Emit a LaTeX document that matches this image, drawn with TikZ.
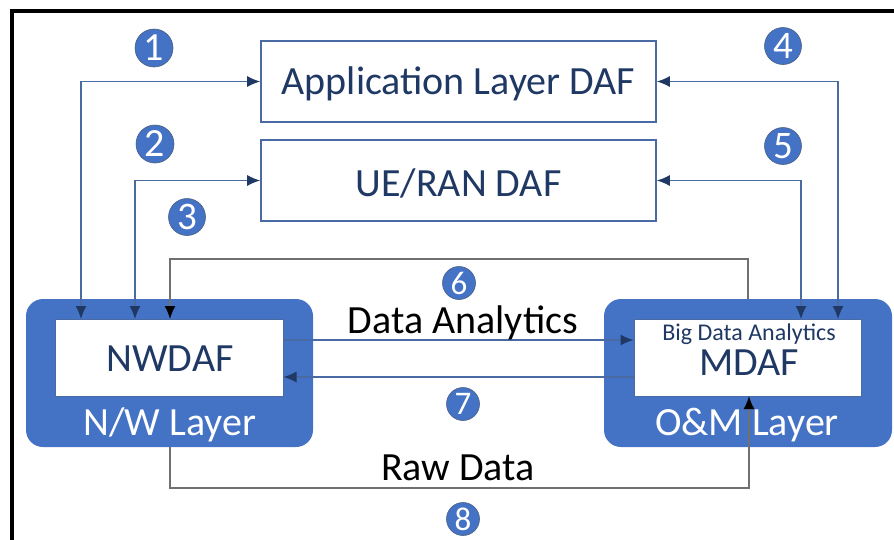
\documentclass[tikz,border=0pt]{standalone}
\usepackage{fontspec}
\setmainfont{Carlito}
\usepackage{tikz}
\usetikzlibrary{arrows.meta}
\definecolor{layerblue}{HTML}{4472C4}
\definecolor{navy}{HTML}{1F3864}
\definecolor{linkblue}{HTML}{4A6AA3}
\definecolor{wiregray}{HTML}{707070}

\begin{document}
\begin{tikzpicture}[x=1pt,y=-1pt,
    dafbox/.style={draw=linkblue,line width=1.6pt,fill=white,minimum width=395pt,minimum height=81pt,inner sep=0pt},
    layerbox/.style={fill=layerblue,rounded corners=17pt,minimum width=287pt,minimum height=148pt,inner sep=0pt},
    funcbox/.style={draw=linkblue,line width=1pt,fill=white,minimum width=228pt,minimum height=77pt,inner sep=0pt},
    big/.style={font=\fontsize{40}{44}\selectfont,anchor=base,inner sep=0pt},
    num/.style={circle,fill=layerblue,draw=navy!80,line width=0.6pt,inner sep=0pt,text=white},
    link/.style={draw=linkblue,line width=1.4pt,{Latex[length=13pt,width=11pt,navy]}-{Latex[length=13pt,width=11pt,navy]}},
    onelink/.style={draw=linkblue,line width=1.4pt,-{Latex[length=13pt,width=11pt,navy]}},
    wire/.style={draw=wiregray,line width=1.6pt,-{Latex[length=13pt,width=11pt,black]}}]
    \useasboundingbox (0,0) rectangle (894,539);
    % Draw the frame
    \draw[line width=3.6pt] (12,545) -- (12,11) -- (900,11);
    % Draw the DAF boxes
    \node[dafbox] (app) at (458.5,81.5) {};
    \node[big,text=navy] (apptxt) at (458.5,94) {Application Layer DAF};
    \node[dafbox] (ueran) at (458.5,180.5) {};
    \node[big,text=navy] (ueratxt) at (458.5,196) {UE/RAN DAF};
    % Draw the two layers
    \node[layerbox] (nwlayer) at (169.5,373) {};
    \node[funcbox] (nwdaf) at (169,357.5) {};
    \node[big,text=navy] (nwdaftxt) at (170,371) {NWDAF};
    \node[big,text=white] (nwtxt) at (170,435) {N/W Layer};
    \node[layerbox,minimum width=288pt] (omlayer) at (748,373) {};
    \node[funcbox,minimum width=227pt] (mdaf) at (747.5,357.5) {};
    \node[big,text=navy,font=\fontsize{24}{27}\selectfont] (bigtxt) at (749,340) {Big Data Analytics};
    \node[big,text=navy] (mdaftxt) at (749,375) {MDAF};
    \node[big,text=white] (omtxt) at (747,435) {O\&M Layer};
    % Draw the end points on the layers
    \coordinate (n1) at (81,319);
    \coordinate (n2) at (135,319);
    \coordinate (n3) at (170,319);
    \coordinate (m4) at (838,319);
    \coordinate (m5) at (801,319);
    \coordinate (o6) at (748,299);
    \coordinate (w8) at (170,447);
    \coordinate (m8) at (749,396);
    % Draw the links
    \draw[link] (app.west) -| (n1);
    \draw[link] (ueran.west) -| (n2);
    \draw[link] (app.east) -| (m4);
    \draw[link] (ueran.east) -| (m5);
    \draw[wire] (o6) -- ++(0,-40) -| (n3);
    \draw[onelink] ([yshift=17.5pt]nwdaf.east) -- ([yshift=17.5pt]mdaf.west);
    \draw[onelink] ([yshift=-19.5pt]mdaf.west) -- ([yshift=-19.5pt]nwdaf.east);
    \draw[wire] (w8) -- ++(0,41) -| (m8);
    \node[big] (datxt) at (463,333) {Data Analytics};
    \node[big] (rawtxt) at (458,480) {Raw Data};
    % Draw the numbers
    \foreach \n/\x/\y/\d/\f in {1/154/48/38/40, 2/155/144/38/40, 3/187/217/37/39, 4/783/46/37/39, 5/783/146/37/39, 6/459/283/33/33, 7/463/404/33/33, 8/463/519/33/33}{
      \node[num,minimum size=\d pt,font=\fontsize{\f}{\d}\selectfont] (c\n) at (\x,\y) {\n};
    }
\end{tikzpicture}
\end{document}
